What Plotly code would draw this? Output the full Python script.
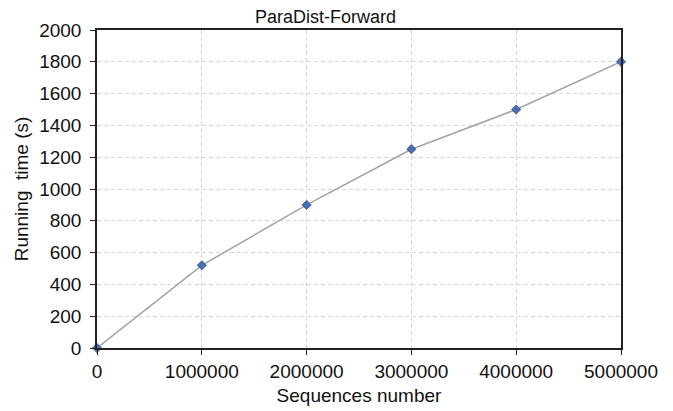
import plotly.graph_objects as go

sequences = [0, 1000000, 2000000, 3000000, 4000000, 5000000]
running_time = [0, 520, 900, 1250, 1500, 1800]
x_ticks = [0, 1000000, 2000000, 3000000, 4000000, 5000000]
y_ticks = list(range(0, 2001, 200))

FONT = "Liberation Sans, Arial, sans-serif"

fig = go.Figure()
fig.add_trace(go.Scatter(
    x=sequences, y=running_time, mode="lines+markers",
    line=dict(color="#a3a3a3", width=1.5),
    marker=dict(symbol="diamond", size=7, color="#4a6fb0",
                line=dict(color="#3b5d9a", width=1)),
    showlegend=False, cliponaxis=False,
))

axis_common = dict(
    showline=True, linecolor="#222222", linewidth=1.5, mirror=True,
    showgrid=True, gridcolor="#d6d6d6", griddash="4px,3px", gridwidth=1,
    ticks="outside", ticklen=5, tickcolor="#222222",
    tickfont=dict(family=FONT, size=19, color="#111111"),
    zeroline=False,
)

fig.update_layout(
    width=673, height=411,
    margin=dict(l=87, r=60, t=22, b=71),
    paper_bgcolor="white", plot_bgcolor="white",
    title=dict(text="ParaDist-Forward", x=0.436, xanchor="center", y=0.979, yanchor="middle",
               xref="paper", yref="container",
               font=dict(family=FONT, size=18, color="#111111")),
    xaxis=dict(range=[0, 5000000], tickvals=x_ticks, ticktext=[str(v) for v in x_ticks],
               title=dict(text="Sequences number", standoff=8,
                          font=dict(family=FONT, size=19, color="#111111")),
               **axis_common),
    yaxis=dict(range=[0, 2000], tickvals=y_ticks, ticktext=[str(v) for v in y_ticks],
               ticklabelstandoff=5,
               title=dict(text="Running  time (s)", standoff=6,
                          font=dict(family=FONT, size=19, color="#111111")),
               **axis_common),
)

fig.write_html("out.html")
